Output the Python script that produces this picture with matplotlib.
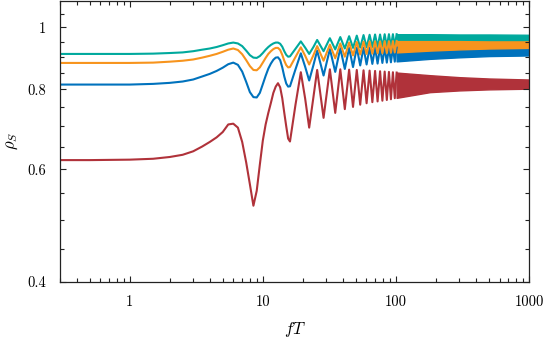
import numpy as np
import matplotlib
matplotlib.use("Agg")
from matplotlib import pyplot as plt
from matplotlib.ticker import FixedLocator, NullFormatter

plt.rcParams['font.family'] = 'serif'
plt.rcParams['font.serif'] = ['cmr10']
plt.rcParams['mathtext.fontset'] = 'cm'
plt.rcParams['axes.formatter.use_mathtext'] = True

# fT sample points
ft_early = [0.3, 0.5, 1.0, 1.5, 2.0, 2.5, 3.0, 3.5, 4.0, 4.5, 5.0, 5.5, 6.0, 6.5, 7.0, 7.5,
            8.0, 8.5, 9.0, 9.5, 10.0, 10.5, 11.0, 11.5, 12.0, 12.5, 13.0, 13.5, 14.0, 14.5,
            15.0, 15.5, 16.0]
# peaks / troughs of the oscillation
ft_late = [17.6, 19.3, 20.8, 22.3, 24.0, 25.6, 28.6, 31.9, 35.0, 38.2, 41.3, 44.5, 47.6,
           50.8, 53.9, 57.1, 60.2, 63.4, 66.5, 69.7, 72.8, 76.0, 79.1, 82.3, 85.4, 88.6,
           91.7, 94.9, 98.0, 101.2]
# beyond ~100 the oscillation is a dense band: upper / lower envelope
ft_band = [101.2, 180, 300, 500, 1000]

teal_early = [0.909, 0.909, 0.909, 0.910, 0.912, 0.914, 0.918, 0.923, 0.927, 0.932, 0.938,
              0.944, 0.947, 0.944, 0.935, 0.920, 0.905, 0.897, 0.896, 0.902, 0.912, 0.923,
              0.932, 0.939, 0.944, 0.947, 0.947, 0.943, 0.933, 0.918, 0.906, 0.900, 0.901]
teal_late = [0.926, 0.951, 0.930, 0.909, 0.932, 0.956, 0.918, 0.962, 0.924, 0.966, 0.927,
             0.969, 0.929, 0.971, 0.930, 0.973, 0.931, 0.974, 0.932, 0.975, 0.932, 0.975,
             0.933, 0.976, 0.933, 0.976, 0.934, 0.976, 0.935, 0.976]
teal_hi = [0.976, 0.976, 0.975, 0.975, 0.974]
teal_lo = [0.935, 0.938, 0.941, 0.943, 0.944]

orange_early = [0.880, 0.880, 0.880, 0.881, 0.884, 0.887, 0.891, 0.897, 0.903, 0.909, 0.916,
                0.923, 0.927, 0.922, 0.908, 0.889, 0.870, 0.858, 0.857, 0.866, 0.881, 0.896,
                0.909, 0.918, 0.925, 0.929, 0.929, 0.922, 0.906, 0.887, 0.873, 0.866, 0.867]
orange_late = [0.899, 0.931, 0.903, 0.875, 0.905, 0.935, 0.887, 0.940, 0.895, 0.944, 0.900,
               0.947, 0.904, 0.949, 0.907, 0.950, 0.909, 0.951, 0.910, 0.951, 0.911, 0.951,
               0.911, 0.952, 0.912, 0.952, 0.913, 0.952, 0.914, 0.952]
orange_hi = [0.952, 0.952, 0.952, 0.951, 0.951]
orange_lo = [0.914, 0.920, 0.924, 0.927, 0.929]

blue_early = [0.814, 0.814, 0.814, 0.816, 0.819, 0.823, 0.829, 0.838, 0.846, 0.855, 0.865,
              0.876, 0.881, 0.874, 0.853, 0.822, 0.792, 0.778, 0.777, 0.790, 0.815, 0.840,
              0.862, 0.878, 0.890, 0.897, 0.898, 0.889, 0.866, 0.838, 0.817, 0.808, 0.809]
blue_late = [0.860, 0.911, 0.868, 0.826, 0.873, 0.920, 0.841, 0.925, 0.852, 0.928, 0.861,
             0.929, 0.867, 0.930, 0.872, 0.930, 0.875, 0.930, 0.877, 0.930, 0.878, 0.930,
             0.880, 0.930, 0.881, 0.930, 0.882, 0.930, 0.884, 0.930]
blue_hi = [0.930, 0.930, 0.929, 0.929, 0.929]
blue_lo = [0.885, 0.893, 0.898, 0.902, 0.904]

red_early = [0.620, 0.620, 0.621, 0.623, 0.627, 0.632, 0.640, 0.651, 0.662, 0.673, 0.686,
             0.705, 0.707, 0.697, 0.662, 0.615, 0.568, 0.526, 0.555, 0.610, 0.665, 0.705,
             0.735, 0.762, 0.790, 0.808, 0.818, 0.806, 0.775, 0.735, 0.700, 0.670, 0.663]
red_late = [0.757, 0.851, 0.774, 0.697, 0.778, 0.858, 0.722, 0.860, 0.735, 0.860, 0.745,
            0.859, 0.751, 0.858, 0.757, 0.857, 0.761, 0.856, 0.764, 0.855, 0.766, 0.854,
            0.768, 0.853, 0.770, 0.852, 0.772, 0.851, 0.775, 0.850]
red_hi = [0.850, 0.842, 0.836, 0.832, 0.829]
red_lo = [0.776, 0.792, 0.797, 0.800, 0.802]

# drawing order: orange sits on top of teal and blue
curves = [
    ("#b0323a", red_early, red_late, red_lo, red_hi),
    ("#0072bd", blue_early, blue_late, blue_lo, blue_hi),
    ("#00a99d", teal_early, teal_late, teal_lo, teal_hi),
    ("#f7941d", orange_early, orange_late, orange_lo, orange_hi),
]

fig = plt.figure(figsize=(5.46, 3.39), dpi=100)
ax = fig.add_axes([0.110, 0.169, 0.859, 0.828])

ft_line = ft_early + ft_late
for c, early, late, lo, hi in curves:
    ax.plot(ft_line, early + late, color=c, lw=1.5, solid_joinstyle='round')
    ax.fill_between(ft_band, lo, hi, color=c, lw=1.0)

ax.set_xscale('log')
ax.set_yscale('log')
ax.set_xlim(0.3, 1000)
ax.set_ylim(0.4, 1.1)

ax.set_xticks([1, 10, 100, 1000])
ax.set_xticklabels(["1", "10", "100", "1000"])
ax.set_yticks([0.4, 0.6, 0.8, 1.0])
ax.set_yticklabels(["0.4", "0.6", "0.8", "1"])
ax.yaxis.set_minor_locator(FixedLocator([0.45, 0.5, 0.55, 0.65, 0.7, 0.75, 0.85, 0.9, 0.95, 1.05]))
ax.yaxis.set_minor_formatter(NullFormatter())
ax.xaxis.set_minor_formatter(NullFormatter())

ax.tick_params(which='both', direction='in', top=True, right=True, color='#222222',
               labelsize=10.5, pad=10, width=0.8)
ax.tick_params(which='major', length=4)
ax.tick_params(which='minor', length=3)
for s in ax.spines.values():
    s.set_color('#222222')
    s.set_linewidth(0.9)

ax.set_xlabel(r"$fT$", fontsize=12, labelpad=8)
ax.set_ylabel(r"$\rho_S$", fontsize=12, labelpad=5)

plt.savefig("out.png", dpi=100)
